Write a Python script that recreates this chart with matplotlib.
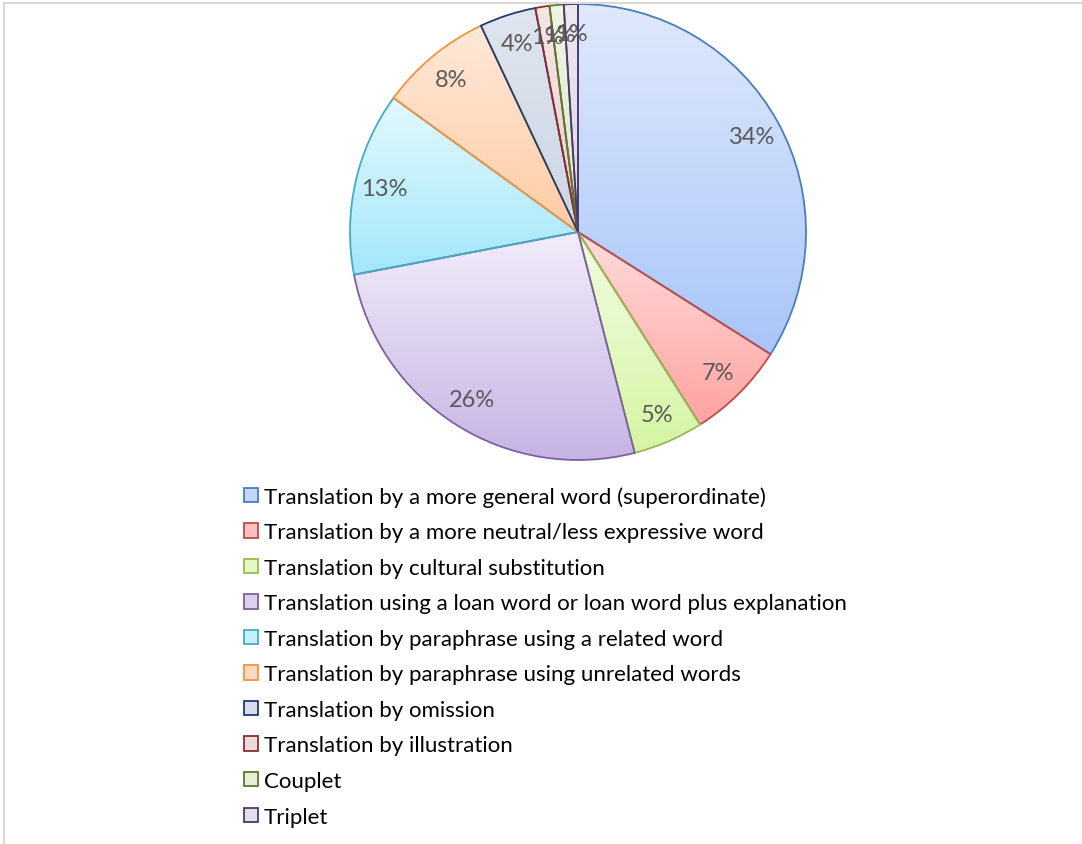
import numpy as np
import matplotlib
matplotlib.use("Agg")
import matplotlib.pyplot as plt
from matplotlib.colors import LinearSegmentedColormap
from matplotlib.patches import Rectangle
from matplotlib.lines import Line2D

categories = [
    "Translation by a more general word (superordinate)",
    "Translation by a more neutral/less expressive word",
    "Translation by cultural substitution",
    "Translation using a loan word or loan word plus explanation",
    "Translation by paraphrase using a related word",
    "Translation by paraphrase using unrelated words",
    "Translation by omission",
    "Translation by illustration",
    "Couplet",
    "Triplet",
]
shares = [34, 7, 5, 26, 13, 8, 4, 1, 1, 1]

top_colors = ["#dfe9fc", "#ffdcdc", "#f1fde3", "#f2edfa", "#e3f9fe",
              "#ffe9d9", "#e0e6f0", "#f5e6e6", "#eef4e6", "#ece8f2"]
bottom_colors = ["#a9c6f9", "#ffa3a1", "#d5f5a3", "#c6b4e5", "#a3e7fb",
                 "#ffcca4", "#ccd5e4", "#e8cfcf", "#dde8cf", "#dcd5e6"]
edge_colors = ["#4a7ebb", "#be4b48", "#98b954", "#7d60a0", "#46aac5",
               "#f69240", "#1f3d6b", "#8b2e2e", "#5f7a2e", "#4c3a6b"]

plt.rcParams['font.family'] = ['Lato', 'DejaVu Sans']

W, H = 1082, 845
fig = plt.figure(figsize=(W / 100, H / 100), dpi=100)
fig.patch.set_facecolor("white")

# pie placement in pixels
cx, cy, R, pad = 578, 233, 228, 6
ax = fig.add_axes([(cx - R - pad) / W, 1 - (cy + R + pad) / H,
                   2 * (R + pad) / W, 2 * (R + pad) / H])
ax.set_axis_off()

wedges, texts, autotexts = ax.pie(
    shares, startangle=90, counterclock=False, radius=1.0,
    autopct="%1.0f%%", pctdistance=0.87,
    textprops=dict(color="#595959", fontsize=17),
)

grad = np.linspace(0, 1, 256).reshape(-1, 1)
for w, top, bot, ec in zip(wedges, top_colors, bottom_colors, edge_colors):
    ext = w.get_path().get_extents()
    cmap = LinearSegmentedColormap.from_list("slice", [top, bot])
    im = ax.imshow(grad, cmap=cmap, origin="upper", aspect="auto",
                   extent=[ext.x0, ext.x1, ext.y0, ext.y1],
                   interpolation="bilinear", zorder=1)
    im.set_clip_path(w)
    w.set_facecolor("none")
    w.set_edgecolor(ec)
    w.set_linewidth(1.3)
    w.set_zorder(2)

for t in autotexts:
    t.set_zorder(3)

lim = (R + pad) / R
ax.set_xlim(-lim, lim)
ax.set_ylim(-lim, lim)
ax.set_aspect("equal")

# legend with square swatches
mid_colors = []
for top, bot in zip(top_colors, bottom_colors):
    cm = LinearSegmentedColormap.from_list("m", [top, bot])
    mid_colors.append(cm(0.5))
handles = [Rectangle((0, 0), 1, 1, facecolor=fc, edgecolor=ec, linewidth=1.3)
           for fc, ec in zip(mid_colors, edge_colors)]
fig.legend(handles, categories, loc="upper left",
           bbox_to_anchor=(244 / W, 1 - 487 / H),
           frameon=False, fontsize=16, borderpad=0, borderaxespad=0,
           handlelength=0.63, handleheight=0.63, handletextpad=0.27,
           labelspacing=0.70, labelcolor="#000000")

# thin frame on the top and left edges
fig.add_artist(Line2D([3.5 / W, 3.5 / W], [0, 1 - 4 / H], color="#d9d9d9",
                      linewidth=1.5, transform=fig.transFigure))
fig.add_artist(Line2D([3.5 / W, 1], [1 - 4 / H, 1 - 4 / H], color="#d9d9d9",
                      linewidth=1.5, transform=fig.transFigure))

fig.savefig("out.png", dpi=100)
